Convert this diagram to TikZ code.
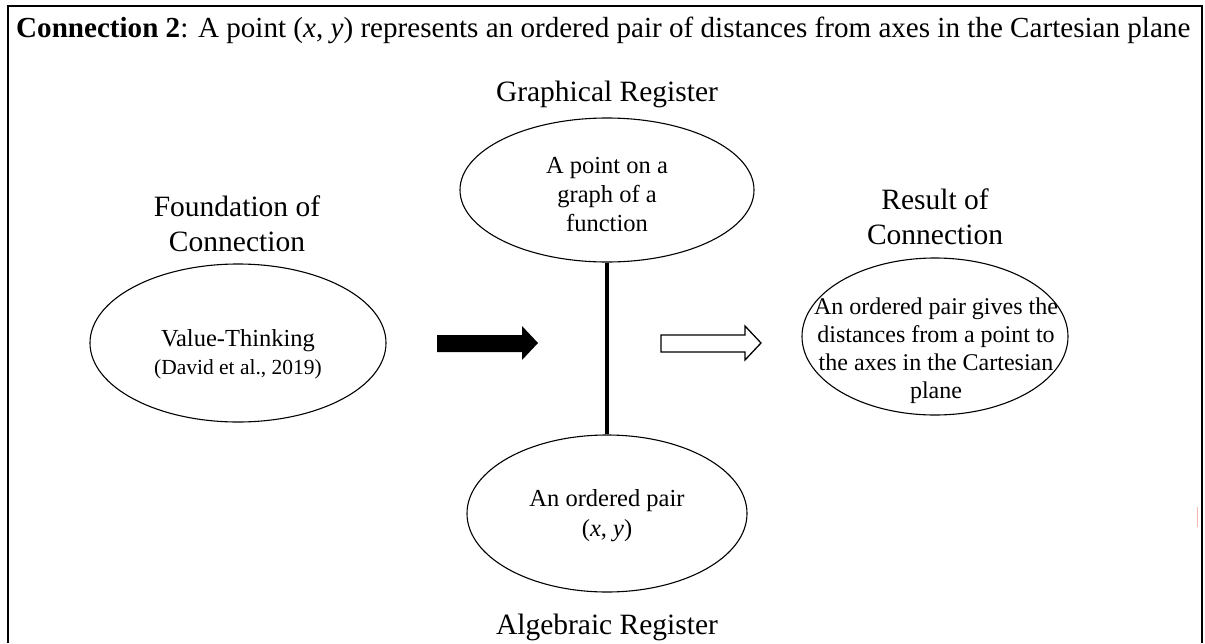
\documentclass[tikz,border=0pt]{standalone}
\usepackage{fontspec}
\setmainfont{Liberation Serif}
\usetikzlibrary{shapes.geometric}
\begin{document}
\begin{tikzpicture}[x=1pt,y=-1pt,
  bubble/.style={draw, ellipse, line width=1.1pt, inner sep=0pt},
  reg/.style={font=\fontsize{29.5}{35}\selectfont, inner sep=0pt, anchor=base},
  body/.style={font=\fontsize{24.5}{29}\selectfont, inner sep=0pt, anchor=base},
  small/.style={font=\fontsize{21.5}{25}\selectfont, inner sep=0pt, anchor=base},
]
\useasboundingbox (0,0) rectangle (1205,643);

% outer frame (open at the bottom)
\coordinate (fbl) at (8,643);
\coordinate (ftl) at (8,6);
\coordinate (ftr) at (1202,6);
\coordinate (fbr) at (1202,643);
\draw[line width=2pt] (fbl) -- (ftl) -- (ftr) -- (fbr);

% heading
\node[anchor=base west, inner sep=0pt, font=\fontsize{29.1}{33}\selectfont] (title) at (16,37)
  {\textbf{Connection 2}: A point (\textit{x}, \textit{y}) represents an ordered pair of distances from axes in the Cartesian plane};

% ellipses
\node[bubble, minimum width=296pt, minimum height=158pt] (found) at (238,343) {};
\node[bubble, minimum width=294pt, minimum height=144pt] (graph) at (607,190) {};
\node[bubble, minimum width=280pt, minimum height=157pt] (alg) at (607,513.5) {};
\node[bubble, minimum width=266pt, minimum height=157pt] (result) at (935,336.5) {};

% link between the two registers
\draw[line width=4pt] (graph.south) -- (alg.north);

% block arrows
\fill (437,335) -- (522,335) -- (522,326) -- (538,343) -- (522,360) -- (522,352) -- (437,352) -- cycle;
\draw[line width=1.3pt, fill=white] (661,335) -- (745,335) -- (745,326) -- (761,343) -- (745,360) -- (745,352) -- (661,352) -- cycle;

% outer labels
\node[reg] (greg) at (607,101) {Graphical Register};
\node[reg] (areg) at (607,634) {Algebraic Register};
\node[reg] (fnd1) at (237,216) {Foundation of};
\node[reg] (fnd2) at (237,251) {Connection};
\node[reg] (res1) at (935,209) {Result of};
\node[reg] (res2) at (935,244) {Connection};

% ellipse contents
\node[body] (vt) at (238,346) {Value-Thinking};
\node[small] (cite) at (238,374) {(David et al., 2019)};

\node[body] (g1) at (607,173) {A point on a};
\node[body] (g2) at (607,202) {graph of a};
\node[body] (g3) at (607,231) {function};

\node[body] (a1) at (607,506) {An ordered pair};
\node[body] (a2) at (607,536) {(\textit{x}, \textit{y})};

\node[body, font=\fontsize{24}{28}\selectfont] (r1) at (936,314) {An ordered pair gives the};
\node[body, font=\fontsize{24}{28}\selectfont] (r2) at (936,342) {distances from a point to};
\node[body, font=\fontsize{24}{28}\selectfont] (r3) at (936,370) {the axes in the Cartesian};
\node[body, font=\fontsize{24}{28}\selectfont] (r4) at (936,398) {plane};

% small mark near the right edge
\definecolor{markpink}{RGB}{244,184,176}
\draw[markpink, line width=1pt] (1197,507) -- (1197,527);
\end{tikzpicture}
\end{document}
